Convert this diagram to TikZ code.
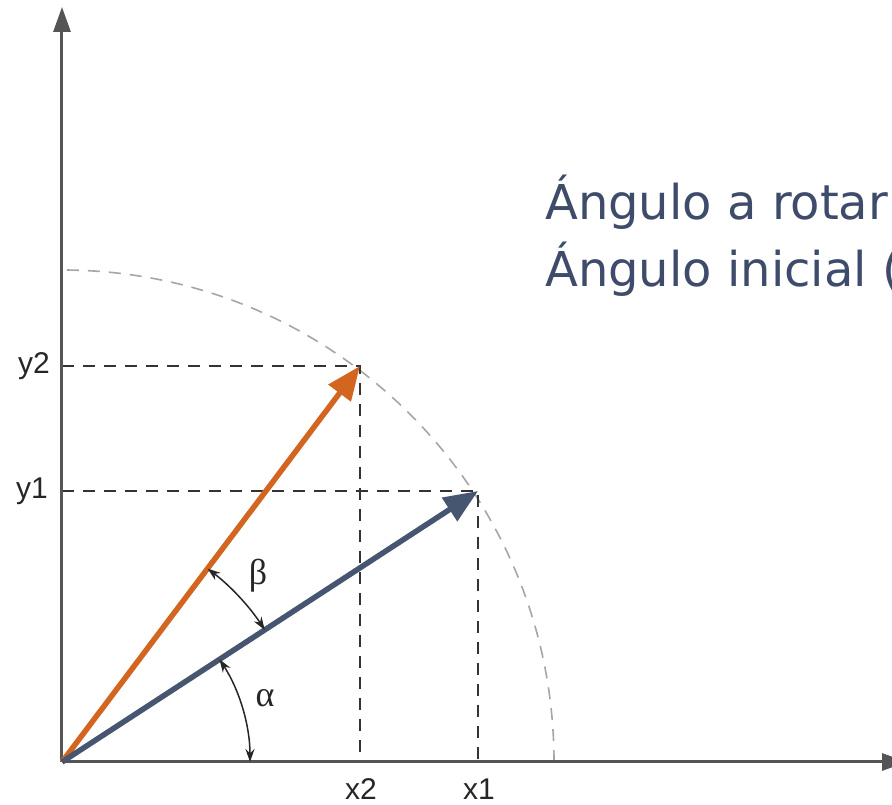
\documentclass[tikz,border=0pt]{standalone}
\usepackage{fontspec}
\setmainfont{Liberation Sans}
\newfontfamily\titlefont{DejaVu Sans}
\newfontfamily\greekfont{Liberation Serif}
\usetikzlibrary{arrows.meta}
\definecolor{vorange}{HTML}{D2651F}
\definecolor{vblue}{HTML}{465670}
\definecolor{ttext}{HTML}{3E4B6A}
\definecolor{axisgray}{HTML}{555555}
\begin{document}
\begin{tikzpicture}[x=1pt,y=1pt,
  axisline/.style={draw=axisgray,line width=3pt,-{Triangle[length=25pt,width=17pt]}},
  guide/.style={draw=black!80,line width=2pt,dash pattern=on 12pt off 9pt},
  circ/.style={draw=black!35,line width=1.6pt,dash pattern=on 12pt off 9pt},
  vec/.style={line width=5.5pt,-{Triangle[length=34pt,width=27pt]}},
  anglearc/.style={draw=black!85,line width=1.5pt,{Stealth[length=13pt,width=9pt]}-{Stealth[length=13pt,width=9pt]}},
  axlabel/.style={font=\fontsize{30}{32}\selectfont,text=black!85,inner sep=0pt},
  greek/.style={font=\greekfont\fontsize{36}{38}\selectfont,text=black!85,inner sep=0pt},
  title/.style={font=\titlefont\fontsize{48}{58}\selectfont,text=ttext,inner sep=0pt,anchor=base west}]
\clip (-62,-43) rectangle (830,762);
\coordinate (O) at (0,0);
\coordinate (P1) at (416,271);
\coordinate (P2) at (298,396);
\coordinate (X1) at (416,0);
\coordinate (X2) at (298,0);
\coordinate (Y1) at (0,271);
\coordinate (Y2) at (0,396);
\coordinate (Ytip) at (0,755);
\coordinate (Xtip) at (845,0);
% circle
\draw[circ] (492,0) arc[start angle=0,end angle=90,radius=492];
% guides
\draw[guide] (Y2) -- (P2) -- (X2);
\draw[guide] (Y1) -- (P1) -- (X1);
% axes
\draw[axisline] (O) -- (Ytip);
\draw[axisline] (O) -- (Xtip);
% vectors
\draw[vec,vorange] (O) -- (P2);
\draw[vec,vblue] (O) -- (P1);
% angle arcs
\draw[anglearc] (33.08:242) arc[start angle=33.08,end angle=53.04,radius=242];
\draw[anglearc] (0:188) arc[start angle=0,end angle=33.08,radius=188];
\node[greek] (beta) at (196,186) {β};
\node[greek] (alpha) at (203,64) {α};
% labels
\node[axlabel,anchor=east] (ly2) at (-12,396) {y2};
\node[axlabel,anchor=east] (ly1) at (-14,271) {y1};
\node[axlabel,anchor=base] (lx2) at (299,-38) {x2};
\node[axlabel,anchor=base] (lx1) at (417,-38) {x1};
% title text
\node[title] (t1) at (483,542) {Ángulo a rotar};
\node[title] (t2) at (483,475) {Ángulo inicial (};
\end{tikzpicture}
\end{document}
